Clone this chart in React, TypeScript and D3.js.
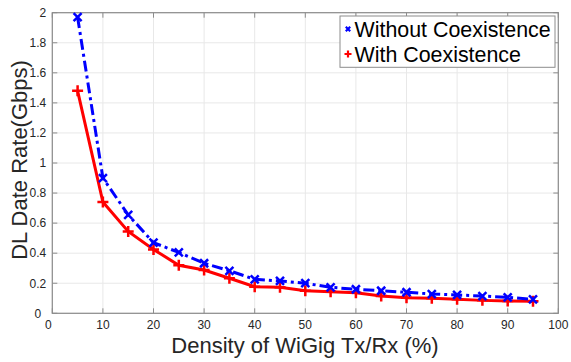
import React from "react";
import * as d3 from "d3";

const density = [5, 10, 15, 20, 25, 30, 35, 40, 45, 50, 55, 60, 65, 70, 75, 80, 85, 90, 95];
const withoutCoex = [1.97, 0.9, 0.655, 0.47, 0.405, 0.333, 0.283, 0.226, 0.215, 0.2, 0.173, 0.16, 0.15, 0.14, 0.128, 0.122, 0.115, 0.106, 0.093];
const withCoex = [1.48, 0.74, 0.545, 0.425, 0.32, 0.288, 0.233, 0.177, 0.173, 0.15, 0.144, 0.137, 0.115, 0.104, 0.1, 0.093, 0.086, 0.082, 0.08];
const xTicks = [0, 10, 20, 30, 40, 50, 60, 70, 80, 90, 100];
const yTicks = [0, 0.2, 0.4, 0.6, 0.8, 1, 1.2, 1.4, 1.6, 1.8, 2];
const seriesNames = ["Without Coexistence", "With Coexistence"];

const W = 571, H = 362;
const L = 52.3, R = 558.3, T = 12.7, B = 313.3;
const FONT = "'Liberation Sans', Arial, sans-serif";

export default function App() {
  const x = d3.scaleLinear().domain([0, 100]).range([L, R]);
  const y = d3.scaleLinear().domain([0, 2]).range([B, T]);
  const line = d3.line<number>().x((_, i) => x(density[i])).y((d) => y(d));
  const axisCol = "#262626";
  const tickLen = 5;

  const xMark = (cx: number, cy: number, s: number, key: any, w = 2.5) => (
    <path key={key} d={`M${cx - s},${cy - s}L${cx + s},${cy + s}M${cx - s},${cy + s}L${cx + s},${cy - s}`} stroke="#0000ff" strokeWidth={w} fill="none" />
  );
  const plusMark = (cx: number, cy: number, s: number, key: any, w = 2.5) => (
    <path key={key} d={`M${cx - s},${cy}L${cx + s},${cy}M${cx},${cy - s}L${cx},${cy + s}`} stroke="#ff0000" strokeWidth={w} fill="none" />
  );

  return (
    <svg width={W} height={H} style={{ position: "absolute", left: 0, top: 0, background: "#fff" }}>
      <rect x={0} y={0} width={W} height={H} fill="#fff" />
      {xTicks.map((t) => (
        <line key={"gx" + t} x1={x(t)} x2={x(t)} y1={T} y2={B} stroke="#e8e8e8" strokeWidth={1} />
      ))}
      {yTicks.map((t) => (
        <line key={"gy" + t} x1={L} x2={R} y1={y(t)} y2={y(t)} stroke="#e8e8e8" strokeWidth={1} />
      ))}
      <rect x={L} y={T} width={R - L} height={B - T} fill="none" stroke="#8c8c8c" strokeWidth={1.2} />
      {xTicks.map((t) => (
        <g key={"tx" + t}>
          <line x1={x(t)} x2={x(t)} y1={B} y2={B - tickLen} stroke="#8c8c8c" />
          <line x1={x(t)} x2={x(t)} y1={T} y2={T + tickLen} stroke="#8c8c8c" />
          <text x={x(t) - (t === 0 ? 4 : 0)} y={B + 15.5} textAnchor="middle" fontFamily={FONT} fontSize={12} fill={axisCol}>{t}</text>
        </g>
      ))}
      {yTicks.map((t) => (
        <g key={"ty" + t}>
          <line x1={L} x2={L + tickLen} y1={y(t)} y2={y(t)} stroke="#8c8c8c" />
          <line x1={R} x2={R - tickLen} y1={y(t)} y2={y(t)} stroke="#8c8c8c" />
          <text x={t === 0 ? L - 11 : L - 6} y={y(t) + 4.3} textAnchor="end" fontFamily={FONT} fontSize={12} fill={axisCol}>{String(t)}</text>
        </g>
      ))}
      <text x={305} y={352.5} textAnchor="middle" fontFamily={FONT} fontSize={22} fill={axisCol}>Density of WiGig Tx/Rx (%)</text>
      <text transform={`translate(27,${160}) rotate(-90)`} textAnchor="middle" fontFamily={FONT} fontSize={22} fill={axisCol}>DL Date Rate(Gbps)</text>
      <path d={line(withCoex) || ""} fill="none" stroke="#ff0000" strokeWidth={3} />
      {withCoex.map((v, i) => plusMark(x(density[i]), y(v), 5.5, "p" + i))}
      <path d={line(withoutCoex) || ""} fill="none" stroke="#0000ff" strokeWidth={3} strokeDasharray="11,4,3,4" />
      {withoutCoex.map((v, i) => xMark(x(density[i]), y(v), 4, "x" + i))}
      <rect x={340} y={16} width={215} height={51.3} fill="#fff" stroke="#8c8c8c" strokeWidth={1} />
      {xMark(348, 29, 2.2, "lx", 2.2)}
      {plusMark(348, 54, 3.5, "lp", 2.2)}
      <text x={354.5} y={36.8} fontFamily={FONT} fontSize={21.4} fill="#000">{seriesNames[0]}</text>
      <text x={354.5} y={62.3} fontFamily={FONT} fontSize={21.4} fill="#000">{seriesNames[1]}</text>
    </svg>
  );
}
